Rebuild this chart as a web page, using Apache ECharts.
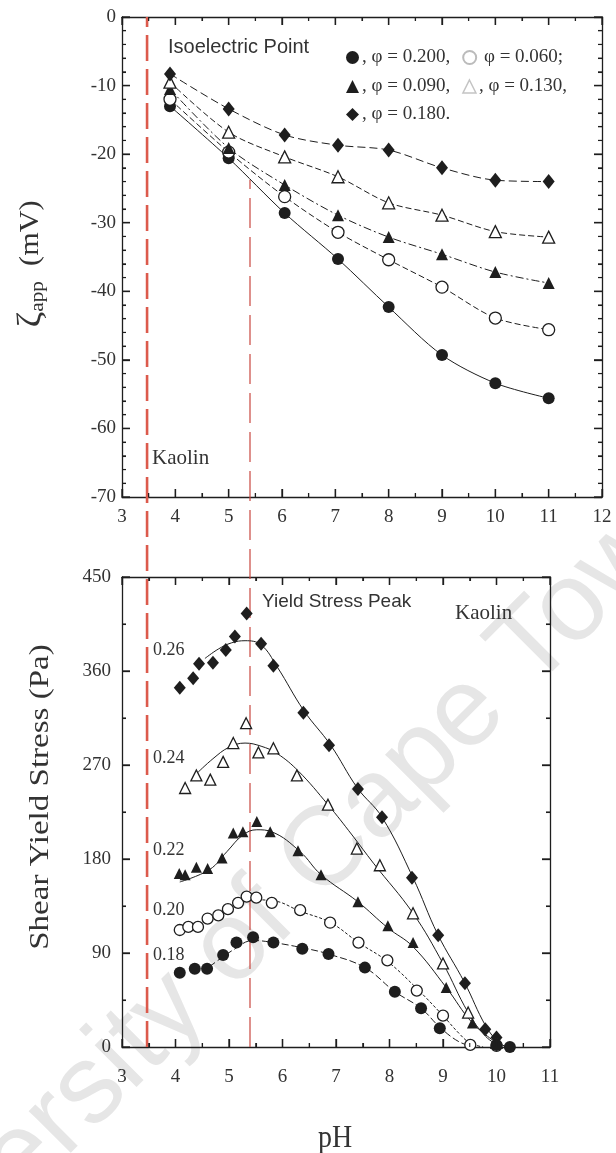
<!DOCTYPE html>
<html>
<head>
<meta charset="utf-8">
<script src="https://cdn.jsdelivr.net/npm/echarts@6/dist/echarts.min.js"></script>
<style>
  html, body { margin: 0; padding: 0; background: #fff; }
  #chart { width: 616px; height: 1153px; }
</style>
</head>
<body>
<div id="chart"></div>
<script>
// ---- Upper panel: apparent zeta potential vs pH for five solids fractions ----
const zetaPH   = [3.9, 5.0, 6.05, 7.05, 8.0, 9.0, 10.0, 11.0];
const zeta0200 = [-13.0, -20.6, -28.6, -35.3, -42.3, -49.3, -53.4, -55.6];
const zeta0060 = [-12.0, -19.7, -26.2, -31.4, -35.4, -39.4, -43.9, -45.6];
const zeta0090 = [-10.5, -19.1, -24.5, -28.9, -32.1, -34.6, -37.2, -38.8];
const zeta0130 = [-9.5, -16.8, -20.4, -23.3, -27.1, -28.9, -31.3, -32.1];
const zeta0180 = [-8.3, -13.4, -17.2, -18.7, -19.4, -22.0, -23.8, -24.0];

// ---- Lower panel: shear yield stress (Pa) vs pH, measured points ----
const ph026 = [4.08, 4.33, 4.44, 4.70, 4.94, 5.11, 5.33, 5.60, 5.83, 6.39, 6.87, 7.41, 7.86, 8.42, 8.91, 9.41, 9.79, 10.0];
const ys026 = [344, 353, 367, 368, 380, 393, 415, 386, 365, 320, 289, 247, 220, 162, 107, 61, 17, 9];
const ph024 = [4.18, 4.39, 4.65, 4.89, 5.08, 5.32, 5.55, 5.83, 6.27, 6.85, 7.39, 7.82, 8.44, 9.0, 9.47, 10.0];
const ys024 = [248, 260, 256, 273, 291, 310, 282, 286, 260, 232, 190, 174, 128, 80, 33, 4];
const ph022 = [4.07, 4.18, 4.39, 4.60, 4.87, 5.08, 5.26, 5.52, 5.77, 6.29, 6.72, 7.41, 7.97, 8.44, 9.06, 9.55, 10.0];
const ys022 = [166, 165, 172, 171, 181, 205, 206, 216, 206, 188, 165, 139, 116, 100, 57, 23, 4];
const ph020 = [4.08, 4.24, 4.42, 4.60, 4.80, 4.98, 5.17, 5.33, 5.51, 5.80, 6.33, 6.89, 7.42, 7.96, 8.51, 9.0, 9.51, 10.0];
const ys020 = [112, 115, 115, 123, 126, 132, 138, 144, 143, 138, 131, 119, 100, 83, 54, 30, 2, 1];
const ph018 = [4.08, 4.36, 4.59, 4.89, 5.14, 5.45, 5.83, 6.37, 6.86, 7.54, 8.10, 8.59, 8.94, 10.0, 10.25];
const ys018 = [71, 75, 75, 88, 100, 105, 100, 94, 89, 76, 53, 37, 18, 2, 0];

// ---- Lower panel: fitted trend curves ----
const fitPh026 = [4.55, 4.8, 5.05, 5.3, 5.6, 5.9, 6.4, 6.9, 7.4, 7.86, 8.44, 8.9, 9.4, 9.8, 10.05, 10.2];
const fitYs026 = [372, 381, 387, 389, 385, 364, 322, 289, 248, 220, 162, 108, 62, 20, 4, 0];
const fitPh024 = [4.4, 4.7, 5.0, 5.3, 5.6, 5.9, 6.3, 6.85, 7.3, 7.7, 8.44, 9.0, 9.47, 9.8, 10.05];
const fitYs024 = [262, 276, 287, 291, 288, 281, 264, 232, 203, 176, 128, 80, 33, 10, 1];
const fitPh022 = [4.08, 4.64, 4.96, 5.26, 5.52, 5.8, 6.33, 6.72, 7.41, 7.97, 8.44, 9.06, 9.55, 10.0];
const fitYs022 = [158, 170, 187, 203, 208, 206, 187, 165, 139, 114, 96, 57, 23, 4];
const fitPh020 = [4.08, 4.64, 5.08, 5.4, 5.83, 6.33, 6.9, 7.42, 7.96, 8.51, 9.0, 9.3, 9.5, 9.75];
const fitYs020 = [110, 123, 133, 141, 140, 130, 119, 100, 82, 56, 30, 13, 4, 0];
const fitPh018 = [4.64, 5.08, 5.45, 5.83, 6.37, 6.86, 7.54, 8.1, 8.59, 8.94, 9.3, 9.6];
const fitYs018 = [77, 93, 102, 100, 95, 89, 76, 53, 37, 19, 5, 0];

// ---- Reference pH lines (isoelectric point, yield stress peak) ----
const isoelectricPH = 3.47;
const peakPH = 5.4;

// ---- Axis ranges and tick steps ----
const phTop = { min: 3, max: 12, step: 1, minor: 2 };
const phBottom = { min: 3, max: 11, step: 1, minor: 2 };
const zetaTicks = { min: -70, max: 0, step: 10, minor: 5 };
const stressTicks = { min: 0, max: 450, step: 90, minor: 2 };

const SERIF = "'Liberation Serif', 'Times New Roman', serif";
const SANS = "'Liberation Sans', Arial, sans-serif";
const INK = '#1e1e1e';
const TXT = '#333';
const RED = '#dc5a4c';

const pairs = (xs, ys) => xs.map((x, i) => [x, ys[i]]);

function tickParts(minorSplit) {
  return {
    axisTick: { show: true, inside: true, length: 8, lineStyle: { color: INK, width: 1.3 } },
    minorTick: { show: true, splitNumber: minorSplit, length: 4, lineStyle: { color: INK, width: 1.1 } },
    splitLine: { show: false },
    minorSplitLine: { show: false }
  };
}
function xAxis(grid, t, pos, showLabels, margin) {
  return Object.assign({
    type: 'value', gridIndex: grid, min: t.min, max: t.max, interval: t.step, position: pos,
    axisLine: { show: true, onZero: false, lineStyle: { color: INK, width: 1.3 } },
    axisLabel: { show: showLabels, margin, fontFamily: SERIF, fontSize: 19, color: TXT }
  }, tickParts(t.minor));
}
function yAxis(grid, t, pos, showLabels, margin) {
  return Object.assign({
    type: 'value', gridIndex: grid, min: t.min, max: t.max, interval: t.step, position: pos,
    axisLine: { show: true, onZero: false, lineStyle: { color: INK, width: 1.3 } },
    axisLabel: { show: showLabels, margin, fontFamily: SERIF, fontSize: 19, color: TXT }
  }, tickParts(t.minor));
}

// Inward tick marks on all four sides of a panel, placed through the axis scales
function tickItems(t, kind) {
  const out = [];
  const n = Math.round((t.max - t.min) / t.step * t.minor);
  for (let i = 0; i <= n; i++) out.push([kind, t.min + i * t.step / t.minor, i % t.minor === 0 ? 1 : 0]);
  return out;
}
function frameTicks(xi, yi, xt, yt) {
  return {
    type: 'custom', xAxisIndex: xi, yAxisIndex: yi, silent: true, z: 4, clip: false,
    dimensions: ['kind', 'v', 'major'], encode: { x: 1, y: 1 },
    data: [...tickItems(xt, 0), ...tickItems(yt, 1)],
    renderItem(params, api) {
      const kind = api.value(0), v = api.value(1);
      const len = api.value(2) ? 8 : 4;
      const st = { stroke: INK, lineWidth: api.value(2) ? 1.3 : 1.1 };
      if (kind === 0) {
        const b = api.coord([v, yt.min]), t = api.coord([v, yt.max]);
        return { type: 'group', children: [
          { type: 'line', shape: { x1: b[0], y1: b[1], x2: b[0], y2: b[1] - len }, style: st },
          { type: 'line', shape: { x1: t[0], y1: t[1], x2: t[0], y2: t[1] + len }, style: st }
        ] };
      }
      const l = api.coord([xt.min, v]), r = api.coord([xt.max, v]);
      return { type: 'group', children: [
        { type: 'line', shape: { x1: l[0], y1: l[1], x2: l[0] + len, y2: l[1] }, style: st },
        { type: 'line', shape: { x1: r[0], y1: r[1], x2: r[0] - len, y2: r[1] }, style: st }
      ] };
    }
  };
}

function markerStyle(open) {
  return open
    ? { color: '#fff', borderColor: INK, borderWidth: 1.3, opacity: 1 }
    : { color: INK, borderColor: INK, borderWidth: 0, opacity: 1 };
}

// Upper panel series: markers joined by smooth curves
const zetaSeries = [
  { name: '0.200', ys: zeta0200, symbol: 'circle', size: 12, open: false, dash: 'solid' },
  { name: '0.060', ys: zeta0060, symbol: 'circle', size: 12, open: true, dash: [6, 3] },
  { name: '0.090', ys: zeta0090, symbol: 'triangle', size: 12, open: false, dash: [8, 3, 2, 3] },
  { name: '0.130', ys: zeta0130, symbol: 'triangle', size: 12, open: true, dash: [6, 3] },
  { name: '0.180', ys: zeta0180, symbol: 'diamond', size: [12, 15], open: false, dash: [8, 4] }
].map(s => ({
  name: s.name, type: 'line', xAxisIndex: 0, yAxisIndex: 0,
  data: pairs(zetaPH, s.ys), smooth: 0.3,
  symbol: s.symbol, symbolSize: s.size, showSymbol: true,
  itemStyle: markerStyle(s.open),
  lineStyle: { color: INK, width: 1, type: s.dash },
  z: 3
}));

// Lower panel: scatter points + fitted curves
const stressSets = [
  { name: '0.26', xs: ph026, ys: ys026, fx: fitPh026, fy: fitYs026, symbol: 'diamond', size: [12, 14], open: false, dash: 'solid' },
  { name: '0.24', xs: ph024, ys: ys024, fx: fitPh024, fy: fitYs024, symbol: 'triangle', size: 11, open: true, dash: 'solid' },
  { name: '0.22', xs: ph022, ys: ys022, fx: fitPh022, fy: fitYs022, symbol: 'triangle', size: 11, open: false, dash: 'solid' },
  { name: '0.20', xs: ph020, ys: ys020, fx: fitPh020, fy: fitYs020, symbol: 'circle', size: 11, open: true, dash: [3, 2] },
  { name: '0.18', xs: ph018, ys: ys018, fx: fitPh018, fy: fitYs018, symbol: 'circle', size: 12, open: false, dash: [7, 3] }
];
const stressSeries = [];
stressSets.forEach(s => {
  stressSeries.push({
    name: 'fit ' + s.name, type: 'line', xAxisIndex: 2, yAxisIndex: 2,
    data: pairs(s.fx, s.fy), smooth: 0.4, showSymbol: false, symbol: 'none',
    lineStyle: { color: INK, width: 1, type: s.dash }, z: 2, silent: true
  });
  stressSeries.push({
    name: 'φ = ' + s.name, type: 'scatter', xAxisIndex: 2, yAxisIndex: 2,
    data: pairs(s.xs, s.ys), symbol: s.symbol, symbolSize: s.size,
    itemStyle: markerStyle(s.open), z: 3
  });
});

// Vertical reference lines spanning both panels (overlay grid, y in 0..1)
const refLines = [
  { name: 'Isoelectric Point', type: 'line', xAxisIndex: 4, yAxisIndex: 4,
    data: [[isoelectricPH, 0], [isoelectricPH, 1]], symbol: 'none',
    lineStyle: { color: RED, width: 2.6, type: [26, 8] }, z: 1, silent: true },
  { name: 'Yield Stress Peak', type: 'line', xAxisIndex: 4, yAxisIndex: 4,
    data: [[peakPH, 0], [peakPH, 0.842]], symbol: 'none',
    lineStyle: { color: '#c8463f', width: 1.2, type: [30, 9] }, z: 1, silent: true }
];

const legendText = {
  '0.200': ', φ = 0.200,', '0.060': ' φ = 0.060;',
  '0.090': ', φ = 0.090,', '0.130': ', φ = 0.130,', '0.180': ', φ = 0.180.'
};
function legendRow(top, items) {
  return {
    left: 341, top, orient: 'horizontal', selectedMode: false,
    itemWidth: 13, itemHeight: 13, itemGap: 12,
    data: items,
    formatter: n => legendText[n],
    textStyle: { fontFamily: SERIF, fontSize: 19, color: TXT, padding: [0, 0, 0, -2] }
  };
}

function txt(text, x, y, font) {
  return {
    type: 'text', x, y, silent: true, z: 10,
    style: { text, font, fill: TXT, align: 'left', verticalAlign: 'middle' }
  };
}

const option = {
  animation: false,
  backgroundColor: '#fff',
  grid: [
    { left: 122, top: 17, width: 480, height: 480 },
    { left: 122, top: 577, width: 428, height: 470 },
    { left: 122, top: 17, width: 480, height: 1030 }
  ],
  xAxis: [
    xAxis(0, phTop, 'bottom', true, 11),
    xAxis(0, phTop, 'top', false, 8),
    xAxis(1, phBottom, 'bottom', true, 21),
    xAxis(1, phBottom, 'top', false, 8),
    { type: 'value', gridIndex: 2, min: 3, max: 12, show: false }
  ],
  yAxis: [
    yAxis(0, zetaTicks, 'left', true, 6),
    yAxis(0, zetaTicks, 'right', false, 8),
    yAxis(1, stressTicks, 'left', true, 11),
    yAxis(1, stressTicks, 'right', false, 8),
    { type: 'value', gridIndex: 2, min: 0, max: 1, show: false }
  ],
  legend: [
    legendRow(43, [{ name: '0.200', icon: 'circle' },
                   { name: '0.060', icon: 'circle', itemStyle: { color: '#fff', borderColor: '#bbb', borderWidth: 2 } }]),
    legendRow(72, [{ name: '0.090', icon: 'triangle' },
                   { name: '0.130', icon: 'triangle', itemStyle: { color: '#fff', borderColor: '#c4c4c4', borderWidth: 1.5 } }]),
    legendRow(100, [{ name: '0.180', icon: 'diamond' }])
  ],
  graphic: [
    // faint diagonal watermark behind the plots
    { type: 'text', x: 268, y: 912, rotation: Math.PI / 4, z: -10, silent: true,
      style: { text: 'University of Cape Town', font: "112px 'Liberation Sans', Arial, sans-serif",
               fill: '#e6e6e6', align: 'center', verticalAlign: 'middle' } },
    // axis titles
    { type: 'text', x: 31, y: 264, rotation: Math.PI / 2, scaleX: 1.12, silent: true,
      style: { text: '{z|ζ}{s|app}{n|  (mV)}', align: 'center', verticalAlign: 'middle', fill: TXT,
               rich: { z: { fontFamily: SERIF, fontSize: 34, fill: TXT },
                       s: { fontFamily: SERIF, fontSize: 19, fill: TXT, verticalAlign: 'bottom', lineHeight: 18 },
                       n: { fontFamily: SERIF, fontSize: 27, fill: TXT } } } },
    { type: 'text', x: 41, y: 797, rotation: Math.PI / 2, scaleX: 1.18, silent: true,
      style: { text: 'Shear Yield Stress (Pa)', font: "28px " + SERIF, fill: TXT, align: 'center', verticalAlign: 'middle' } },
    { type: 'text', x: 335, y: 1139, scaleY: 1.1, silent: true,
      style: { text: 'pH', font: "28px " + SERIF, fill: TXT, align: 'center', verticalAlign: 'middle' } },
    // annotations
    txt('Isoelectric Point', 168, 47, "20px " + SANS),
    txt('Kaolin', 152, 458, "21px " + SERIF),
    txt('Yield Stress Peak', 262, 602, "19px " + SANS),
    txt('Kaolin', 455, 613, "21px " + SERIF),
    txt('0.26', 153, 650, "18px " + SERIF),
    txt('0.24', 153, 758, "18px " + SERIF),
    txt('0.22', 153, 850, "18px " + SERIF),
    txt('0.20', 153, 910, "18px " + SERIF),
    txt('0.18', 153, 955, "18px " + SERIF)
  ],
  series: [...refLines, ...zetaSeries, ...stressSeries,
           frameTicks(0, 0, phTop, zetaTicks), frameTicks(2, 2, phBottom, stressTicks)]
};

const chart = echarts.init(document.getElementById('chart'));
chart.setOption(option);
</script>
</body>
</html>
